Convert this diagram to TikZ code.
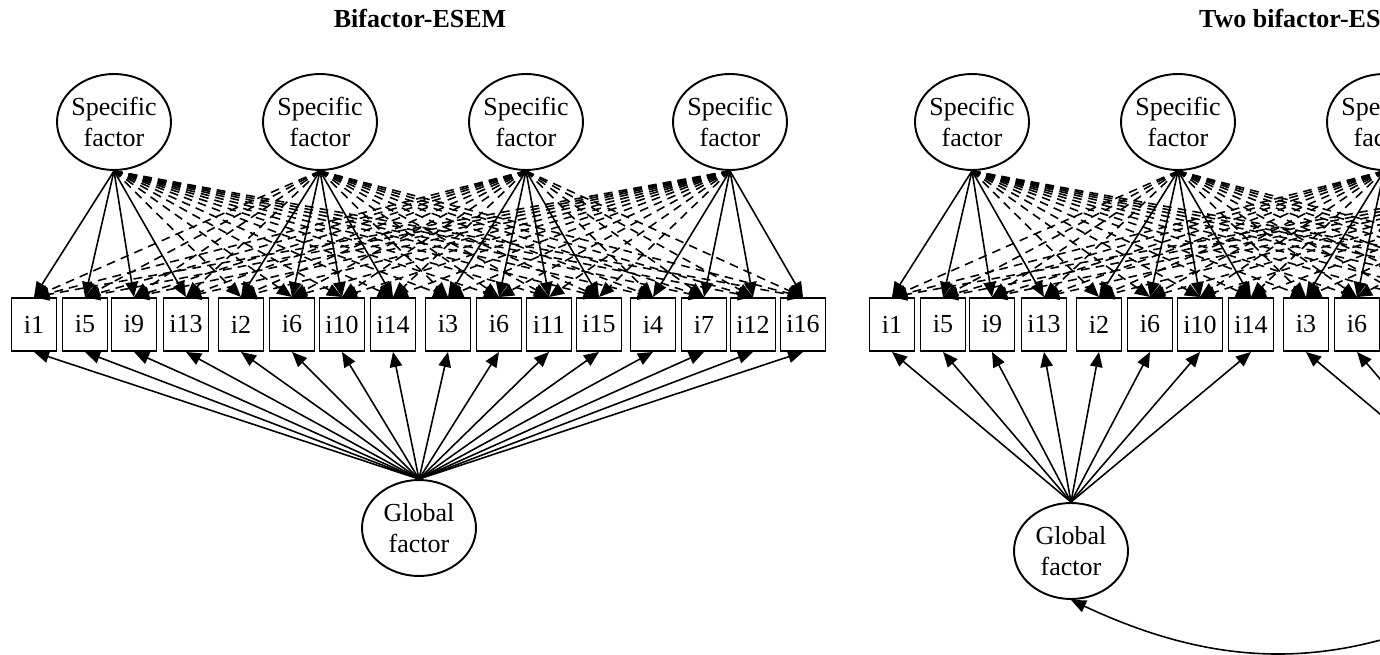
\documentclass[tikz,border=0pt]{standalone}
\usepackage{fontspec}
\setmainfont{Liberation Serif}
\usetikzlibrary{arrows.meta,shapes.geometric}

\tikzset{
  facteur/.style={draw, line width=1.1pt, ellipse, minimum width=2.28cm, minimum height=1.92cm,
    inner xsep=-2pt, inner ysep=0pt, align=center, font=\fontsize{14.8}{17.5}\selectfont},
  item/.style={draw, line width=1.1pt, minimum width=0.9cm, minimum height=1.06cm,
    inner sep=0pt, font=\fontsize{14.8}{17.5}\selectfont},
  titre/.style={font=\fontsize{14.8}{17.5}\selectfont\bfseries},
  fleche/.style={line width=0.9pt, -{Triangle[length=3mm,width=2.5mm]}},
  croisee/.style={fleche, dash pattern=on 5pt off 3.5pt},
  correl/.style={line width=0.9pt, {Triangle[length=3mm,width=2.5mm]}-{Triangle[length=3mm,width=2.5mm]}}
}

\begin{document}
\begin{tikzpicture}[x=0.02cm,y=-0.02cm]

\useasboundingbox (0,0) rectangle (1380,655);
\clip (0,0) rectangle (1380,655);

% Bifactor-ESEM
\node[titre, anchor=base] (titreA) at (420,28) {Bifactor-ESEM};

\foreach \k/\x in {1/114, 2/320, 3/526, 4/730}
  \node[facteur] (sfA\k) at (\x,122) {Specific\\factor};

\foreach \n/\x/\t in {1/34/i1, 2/85/i5, 3/134/i9, 4/186/i13, 5/241/i2, 6/292/i6,
    7/342/i10, 8/393/i14, 9/448/i3, 10/499/i6, 11/549/i11, 12/599/i15,
    13/653/i4, 14/704/i7, 15/753/i12, 16/803/i16}
  \node[item] (itA\n) at (\x,324.5) {\t};

\node[facteur] (gfA) at (419,528) {Global\\factor};

% loadings croisees
\foreach \k in {1,...,4}
  \foreach \n in {1,...,16} {
    \pgfmathtruncatemacro\grp{(\n-1)/4+1}
    \ifnum\grp=\k \else \draw[croisee] (sfA\k.south) -- (itA\n.north); \fi
  }

% loadings specifiques
\foreach \k in {1,...,4}
  \foreach \n in {1,...,16} {
    \pgfmathtruncatemacro\grp{(\n-1)/4+1}
    \ifnum\grp=\k \draw[fleche] (sfA\k.south) -- (itA\n.north); \fi
  }

\foreach \n in {1,...,16}
  \draw[fleche] (gfA.north) -- (itA\n.south);

% Two bifactor-ESEM
\node[titre, anchor=base west] (titreB) at (1193,28) {Two bifactor-ESEM};

\foreach \k/\x in {1/972, 2/1178, 3/1384, 4/1588}
  \node[facteur] (sfB\k) at (\x,122) {Specific\\factor};

\foreach \n/\x/\t in {1/34/i1, 2/85/i5, 3/134/i9, 4/186/i13, 5/241/i2, 6/292/i6,
    7/342/i10, 8/393/i14, 9/448/i3, 10/499/i6, 11/549/i11, 12/599/i15,
    13/653/i4, 14/704/i7, 15/753/i12, 16/803/i16}
  \node[item] (itB\n) at (\x+858,324.5) {\t};

\node[facteur] (gfB1) at (1071,551) {Global\\factor};
\node[facteur] (gfB2) at (1485,551) {Global\\factor};

\foreach \k in {1,...,4}
  \foreach \n in {1,...,16} {
    \pgfmathtruncatemacro\grp{(\n-1)/4+1}
    \ifnum\grp=\k \else \draw[croisee] (sfB\k.south) -- (itB\n.north); \fi
  }

\foreach \k in {1,...,4}
  \foreach \n in {1,...,16} {
    \pgfmathtruncatemacro\grp{(\n-1)/4+1}
    \ifnum\grp=\k \draw[fleche] (sfB\k.south) -- (itB\n.north); \fi
  }

\foreach \n in {1,...,8}
  \draw[fleche] (gfB1.north) -- (itB\n.south);
\foreach \n in {9,...,16}
  \draw[fleche] (gfB2.north) -- (itB\n.south);

% correlation entre facteurs globaux
\draw[correl] (gfB1.south) .. controls (1221,670) and (1335,670) .. (gfB2.south);

\end{tikzpicture}
\end{document}
